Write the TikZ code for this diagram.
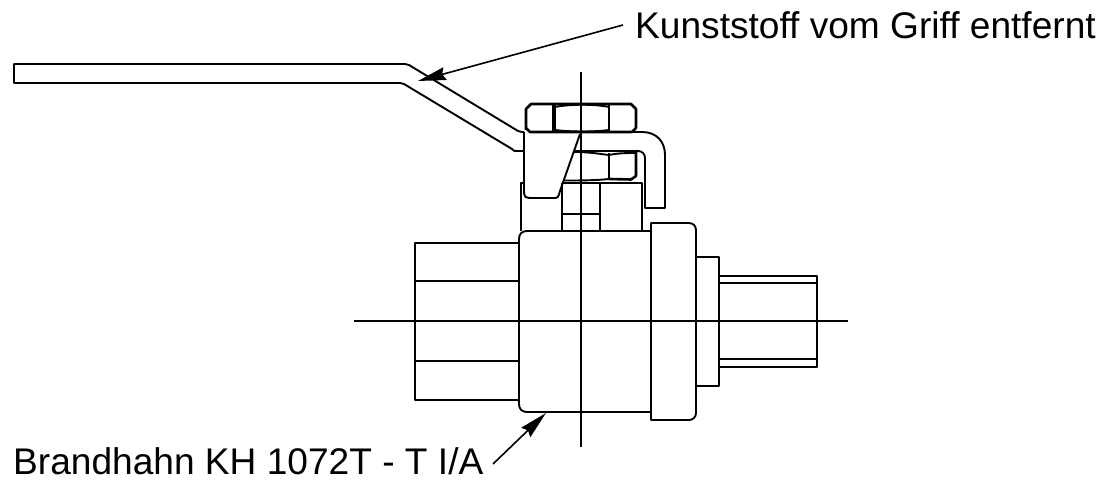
\documentclass[tikz,border=0pt]{standalone}
\usepackage{fontspec}
\setmainfont{Liberation Sans}
\usetikzlibrary{arrows.meta}
\tikzset{
  ln/.style={draw=black,line width=1.9pt,line join=round},
  nut/.style={draw=black,line width=2.6pt,line join=round},
  axis/.style={draw=black,line width=1.5pt},
  lead/.style={draw=black,line width=1.6pt,-{Stealth[length=28pt,width=13pt,inset=3pt]}},
  lbl/.style={font=\fontsize{37.1}{37.1}\selectfont,inner sep=0pt,anchor=base west}
}
\begin{document}
\begin{tikzpicture}[x=1pt,y=-1pt]
\useasboundingbox (0,0) rectangle (1104,481);
\fill[white] (0,0) rectangle (1104,481);
% axes
\draw[axis] (581,72) -- (581,447);
\draw[axis] (354,321) -- (848,321);
% handle
\draw[ln] (524,132) -- (522,132) .. controls (520,132) .. (518,131) -- (409,65) .. controls (407,64) .. (405,64) -- (14,64) -- (14,83) -- (400,83) .. controls (402,83) .. (404,84) -- (512,149) .. controls (514,151) .. (516,151) -- (524,151);
% lever block
\draw[ln] (524,132) -- (524,188) .. controls (524,198) .. (534,198) -- (553,198) .. controls (558,198) .. (560,191) -- (580,134);
% top nut
\draw[nut] (526,130) -- (526,109) -- (531,104) -- (631,104) -- (636,109) -- (636,128) -- (632,132) -- (530,132) -- (526,128);
\draw[ln] (553,105) -- (553,131);
\draw[ln] (555,105) -- (555,131);
\draw[ln] (609,105) -- (609,131);
\draw[ln] (555,107) .. controls (570,104) and (595,104) .. (609,107);
\draw[ln] (555,130) .. controls (570,132) and (595,132) .. (609,130);
% clip
\draw[ln] (580,132) -- (642,132) .. controls (656,132) and (665,141) .. (665,155) -- (665,208) -- (645,208) -- (645,158) .. controls (645,154) and (642,151) .. (638,151) -- (574,151);
% lower nut
\draw[nut] (636,152) -- (636,176) -- (631,179.5) -- (609,179);
\draw[ln] (609,179) .. controls (595,180.5) and (580,180.5) .. (563,180.5);
\draw[ln] (609,153) -- (609,179);
\draw[ln] (574,152) .. controls (590,152) and (600,154) .. (609,155) .. controls (618,153) and (628,153) .. (636,153);
% stem
\draw[ln] (524,183) -- (521,183) -- (521,231);
\draw[ln] (562,183) -- (642,183) -- (642,231);
\draw[ln] (562,183) -- (562,231);
\draw[ln] (600,183) -- (600,231);
\draw[ln] (562,214) -- (600,214);
% body
\draw[ln] (651,231) -- (527,231) .. controls (522,231) and (519,234) .. (519,239) -- (519,404) .. controls (519,409) and (522,412) .. (527,412) -- (651,412);
% left hex
\draw[ln] (519,243) -- (415,243) -- (415,400) -- (519,400);
\draw[ln] (415,281) -- (519,281);
\draw[ln] (415,361) -- (519,361);
% flange
\draw[ln] (651,223) -- (689,223) .. controls (693,223) and (696,226) .. (696,230) -- (696,413) .. controls (696,417) and (693,420) .. (689,420) -- (651,420) -- cycle;
% collar
\draw[ln] (696,257) -- (719,257) -- (719,386) -- (696,386);
% stub
\draw[ln] (719,276) -- (817,276) -- (817,367) -- (719,367);
\draw[ln] (719,283) -- (817,283);
\draw[ln] (719,359) -- (817,359);
% labels
\node[lbl] (griff) at (635,39) {Kunststoff vom Griff entfernt};
\node[lbl] (hahn) at (13,474) {Brandhahn KH 1072T - T I/A};
\coordinate (griffend) at (623,25);
\coordinate (griffpt) at (418,81);
\coordinate (hahnend) at (493,464);
\coordinate (hahnpt) at (546,413);
\draw[lead] (griffend) -- (griffpt);
\draw[lead] (hahnend) -- (hahnpt);
\end{tikzpicture}
\end{document}
